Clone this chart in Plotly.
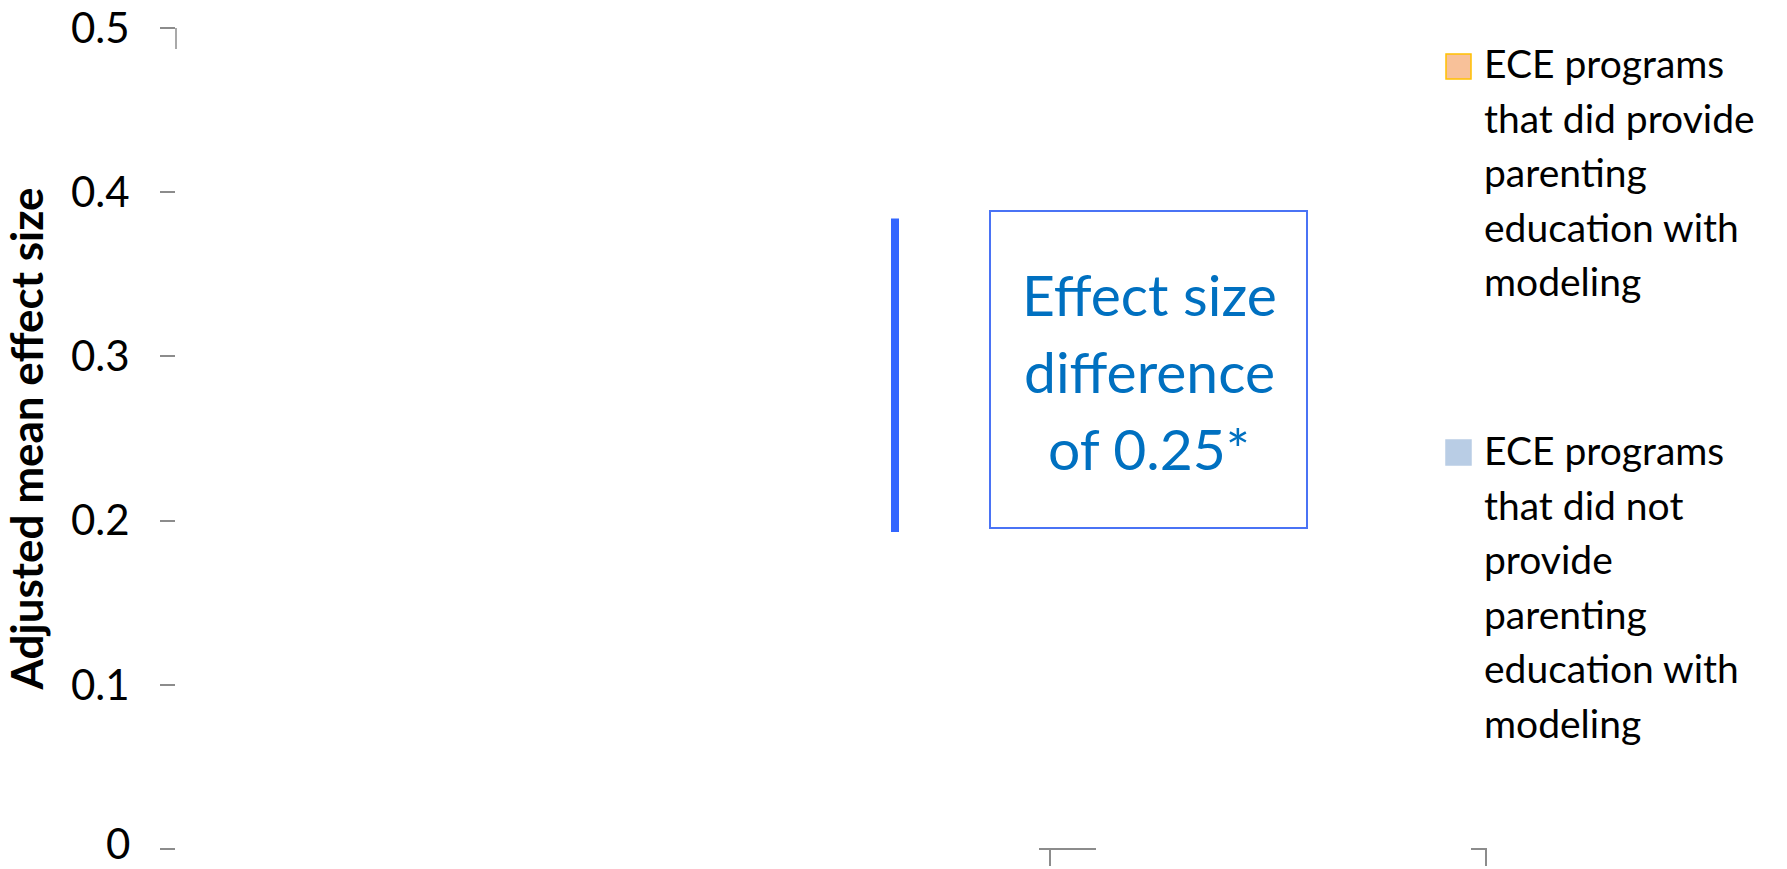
import plotly.graph_objects as go

# ---- data ----
series_names = [
    "ECE programs that did provide parenting education with modeling",
    "ECE programs that did not provide parenting education with modeling",
]
series_lines = [
    ["ECE programs", "that did provide", "parenting", "education with", "modeling"],
    ["ECE programs", "that did not", "provide", "parenting", "education with", "modeling"],
]
series_fill = ["#F8C199", "#B9CDE5"]
series_border = ["#FFC000", "#B9CDE5"]
y_ticks = [0, 0.1, 0.2, 0.3, 0.4, 0.5]
y_tick_text = ["0", "0.1", "0.2", "0.3", "0.4", "0.5"]
diff_bracket_y = [0.193, 0.384]          # the two adjusted means spanned by the bracket
diff_label_lines = ["Effect size", "difference", "of 0.25*"]

# ---- geometry helpers (pixel layout of the 1787x869 page) ----
W, H = 1787, 869
L, R, T, B = 176, 1487, 28, 849
def px_x(px):
    return (px - L) / (R - L)
def px_y(py):
    return (B - py) / (B - T)

fig = go.Figure()

# bracket line between means
fig.add_trace(go.Scatter(
    x=[px_x(895), px_x(895)], y=diff_bracket_y, mode="lines",
    line=dict(color="#3366FF", width=8), showlegend=False, hoverinfo="skip",
))

shapes = []
annotations = []

# label box
shapes.append(dict(type="rect", xref="x", yref="paper",
                   x0=px_x(990), x1=px_x(1307), y0=px_y(528), y1=px_y(211),
                   line=dict(color="#4A73F5", width=2), fillcolor="rgba(0,0,0,0)"))
for i, t in enumerate(diff_label_lines):
    base = 313 + i * 77
    annotations.append(dict(text=t, xref="x", yref="paper", x=px_x(1149),
                            y=px_y(base - 19), xanchor="center", yanchor="middle",
                            showarrow=False,
                            font=dict(family="Lato", size=57, color="#0070C0")))

# axis fragments
axis_grey = "#8C8C8C"
shapes.append(dict(type="line", xref="paper", yref="paper", x0=0, x1=0,
                   y0=1, y1=px_y(49), line=dict(color=axis_grey, width=1.5)))
shapes.append(dict(type="line", xref="paper", yref="paper", x0=px_x(1039), x1=px_x(1096),
                   y0=0, y1=0, line=dict(color=axis_grey, width=2)))
shapes.append(dict(type="line", xref="paper", yref="paper", x0=px_x(1471), x1=1,
                   y0=0, y1=0, line=dict(color=axis_grey, width=2)))

# legend (drawn manually to keep the original line spacing)
leg_first_base = [76, 463]
for k in range(2):
    top = [54, 440][k]
    shapes.append(dict(type="rect", xref="paper", yref="paper",
                       x0=px_x(1446), x1=px_x(1471), y0=px_y(top + 25), y1=px_y(top),
                       fillcolor=series_fill[k], line=dict(color=series_border[k], width=1.5)))
    for j, t in enumerate(series_lines[k]):
        base = leg_first_base[k] + j * 54.6
        annotations.append(dict(text=t, xref="paper", yref="paper", x=px_x(1482),
                                y=px_y(base - 13), xanchor="left", yanchor="middle",
                                showarrow=False,
                                font=dict(family="Lato", size=39, color="#000000")))

# the bottom tick label sits at the page edge; place it so it stays fully visible
tick_font = dict(family="Lato", size=42, color="#000000")
shown_tick_text = [("" if v == 0 else t) for v, t in zip(y_ticks, y_tick_text)]
annotations.append(dict(text=y_tick_text[0], xref="paper", yref="paper",
                        x=px_x(131), y=px_y(H), xanchor="right", yanchor="bottom",
                        showarrow=False, borderpad=0, font=tick_font))

fig.update_layout(
    width=W, height=H,
    margin=dict(l=L, r=W - R, t=T, b=H - B),
    paper_bgcolor="white", plot_bgcolor="white",
    showlegend=False,
    shapes=shapes, annotations=annotations,
    xaxis=dict(range=[0, 1], showgrid=False, zeroline=False, showline=False,
               automargin=False,
               tickmode="array", tickvals=[px_x(1050), px_x(1486)], ticks="outside",
               ticklen=16, tickwidth=2, tickcolor=axis_grey, showticklabels=False),
    yaxis=dict(range=[0, 0.5], showgrid=False, zeroline=False, showline=False,
               automargin=False, ticklabeloverflow="allow",
               tickmode="array", tickvals=y_ticks, ticktext=shown_tick_text,
               ticks="outside", ticklen=15, tickwidth=1.5, tickcolor=axis_grey,
               ticklabelstandoff=22,
               tickfont=tick_font,
               title=dict(text="<b>Adjusted mean effect size</b>", standoff=26,
                          font=dict(family="Lato", size=44, color="#000000"))),
)

fig.write_html("out.html")
